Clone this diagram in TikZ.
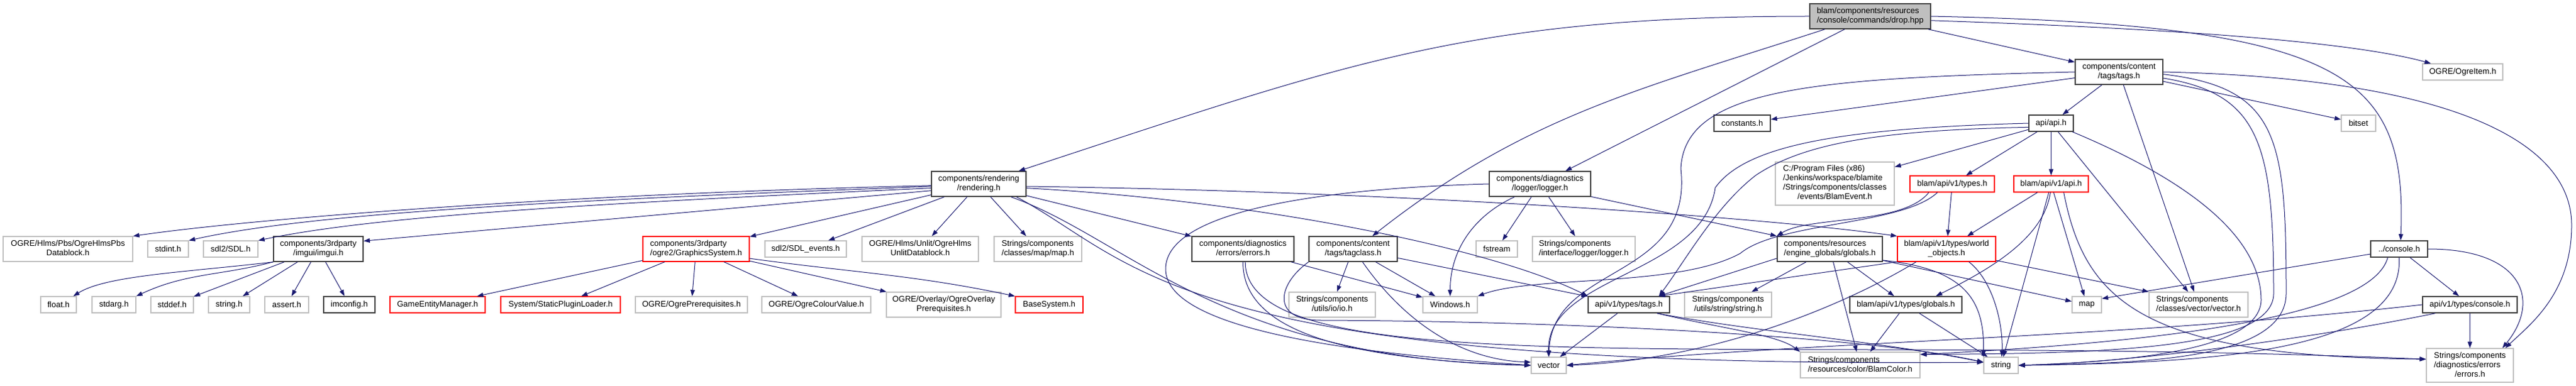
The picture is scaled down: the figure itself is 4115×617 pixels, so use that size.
\documentclass[tikz,border=0pt]{standalone}
\usepackage{fontspec}
\setmainfont{Liberation Sans}
\usetikzlibrary{arrows.meta}
\definecolor{edgeblue}{RGB}{25,25,112}
\newcommand{\nodetext}[2]{\begin{tabular}{@{}l@{}}#1\\\multicolumn{1}{@{}c@{}}{#2}\end{tabular}}
\begin{document}
\begin{tikzpicture}[x=1pt,y=-1pt,
  every node/.style={font=\fontsize{13}{15}\selectfont, inner sep=0pt},
  docfile/.style={draw=black!75, line width=1.5pt, fill=white},
  extfile/.style={draw=gray!50, line width=1.2pt, fill=white},
  cutfile/.style={draw=red, line width=1.2pt, fill=white},
  rootfile/.style={draw=black!75, line width=1.5pt, fill=gray!50},
  dep/.style={draw=edgeblue, line width=1pt, -{Triangle[length=10pt,width=7pt]}}]
\path[use as bounding box, fill=white] (0,0) rectangle (4115,617);

\node[rootfile, minimum width=193, minimum height=40] (drop) at (2987.5,26) {\nodetext{blam/components/resources}{/console/commands/drop.hpp}};
\node[docfile, minimum width=151, minimum height=40] (rendering) at (1563.5,294) {\nodetext{components/rendering}{/rendering.h}};
\node[docfile, minimum width=162, minimum height=40] (logger) at (2460,294) {\nodetext{components/diagnostics}{/logger/logger.h}};
\node[docfile, minimum width=90, minimum height=26] (constants) at (2783,197) {constants.h};
\node[extfile, minimum width=190, minimum height=69] (blamevent) at (2931,293.5) {\nodetext{C:/Program Files (x86)\\/Jenkins/workspace/blamite\\/Strings/components/classes}{/events/BlamEvent.h}};
\node[docfile, minimum width=140, minimum height=40] (tags) at (3385,115) {\nodetext{components/content}{/tags/tags.h}};
\node[extfile, minimum width=128, minimum height=26] (ogreitem) at (3934,115) {OGRE/OgreItem.h};
\node[docfile, minimum width=71, minimum height=26] (apih) at (3276.5,197) {api/api.h};
\node[extfile, minimum width=55, minimum height=26] (bitset) at (3767.5,197) {bitset};
\node[cutfile, minimum width=135, minimum height=26] (types) at (3118.5,294) {blam/api/v1/types.h};
\node[cutfile, minimum width=119, minimum height=26] (apiv1) at (3276.5,294) {blam/api/v1/api.h};
\node[docfile, minimum width=168, minimum height=40] (globals) at (2923,398) {\nodetext{components/resources}{/engine\_globals/globals.h}};
\node[cutfile, minimum width=157, minimum height=40] (worldobj) at (3109.5,398) {\nodetext{blam/api/v1/types/world}{\_objects.h}};
\node[docfile, minimum width=179, minimum height=26] (typesglobals) at (3044.5,487) {blam/api/v1/types/globals.h};
\node[extfile, minimum width=47, minimum height=26] (map) at (3333.5,487) {map};
\node[extfile, minimum width=158, minimum height=40] (vectorh) at (3512,487) {\nodetext{Strings/components}{/classes/vector/vector.h}};
\node[extfile, minimum width=191, minimum height=41] (blamcolor) at (2971.5,583.5) {\nodetext{Strings/components}{/resources/color/BlamColor.h}};
\node[extfile, minimum width=55, minimum height=26] (string) at (3196.5,584) {string};
\node[extfile, minimum width=139, minimum height=40] (stringutils) at (2760.5,487) {\nodetext{Strings/components}{/utils/string/string.h}};
\node[docfile, minimum width=91, minimum height=26] (console) at (3832.5,398) {../console.h};
\node[docfile, minimum width=151, minimum height=26] (typesconsole) at (3945.5,487) {api/v1/types/console.h};
\node[extfile, minimum width=139, minimum height=54] (errorsstr) at (3945.5,584) {\nodetext{Strings/components\\/diagnostics/errors}{/errors.h}};
\node[docfile, minimum width=141, minimum height=40] (tagclass) at (2161.5,398) {\nodetext{components/content}{/tags/tagclass.h}};
\node[extfile, minimum width=66, minimum height=26] (fstream) at (2391,398) {fstream};
\node[extfile, minimum width=164, minimum height=40] (loggerstr) at (2530,398) {\nodetext{Strings/components}{/interface/logger/logger.h}};
\node[extfile, minimum width=87, minimum height=26] (windows) at (2316.5,487) {Windows.h};
\node[docfile, minimum width=130, minimum height=26] (typestags) at (2602,487) {api/v1/types/tags.h};
\node[extfile, minimum width=138, minimum height=40] (io) at (2128,487) {\nodetext{Strings/components}{/utils/io/io.h}};
\node[extfile, minimum width=56, minimum height=26] (vector) at (2474,584) {vector};
\node[docfile, minimum width=163, minimum height=40] (errors) at (1985.5,398) {\nodetext{components/diagnostics}{/errors/errors.h}};
\node[extfile, minimum width=140, minimum height=40] (maph) at (1658,398) {\nodetext{Strings/components}{/classes/map/map.h}};
\node[extfile, minimum width=186, minimum height=40] (unlit) at (1470,398) {\nodetext{OGRE/Hlms/Unlit/OgreHlms}{UnlitDatablock.h}};
\node[extfile, minimum width=130, minimum height=26] (sdlevents) at (1287,398) {sdl2/SDL\_events.h};
\node[cutfile, minimum width=170, minimum height=40] (graphics) at (1112,398) {\nodetext{components/3rdparty}{/ogre2/GraphicsSystem.h}};
\node[extfile, minimum width=183, minimum height=40] (overlay) at (1507.5,487) {\nodetext{OGRE/Overlay/OgreOverlay}{Prerequisites.h}};
\node[cutfile, minimum width=108, minimum height=26] (basesystem) at (1676,487) {BaseSystem.h};
\node[extfile, minimum width=174, minimum height=26] (colourvalue) at (1304,487) {OGRE/OgreColourValue.h};
\node[extfile, minimum width=179, minimum height=26] (ogreprereq) at (1104.5,487) {OGRE/OgrePrerequisites.h};
\node[cutfile, minimum width=191, minimum height=26] (pluginloader) at (895.5,487) {System/StaticPluginLoader.h};
\node[cutfile, minimum width=152, minimum height=26] (gameentity) at (699,487) {GameEntityManager.h};
\node[extfile, minimum width=207, minimum height=40] (pbs) at (108.5,398) {\nodetext{OGRE/Hlms/Pbs/OgreHlmsPbs}{Datablock.h}};
\node[extfile, minimum width=65, minimum height=26] (stdint) at (268.5,398) {stdint.h};
\node[extfile, minimum width=87, minimum height=26] (sdl) at (368.5,398) {sdl2/SDL.h};
\node[docfile, minimum width=143, minimum height=40] (imgui) at (508.5,398) {\nodetext{components/3rdparty}{/imgui/imgui.h}};
\node[extfile, minimum width=57, minimum height=26] (float) at (93.5,487) {float.h};
\node[extfile, minimum width=70, minimum height=26] (stdarg) at (182,487) {stdarg.h};
\node[extfile, minimum width=68, minimum height=26] (stddef) at (275,487) {stddef.h};
\node[extfile, minimum width=66, minimum height=26] (stringh) at (366,487) {string.h};
\node[extfile, minimum width=70, minimum height=26] (assert) at (458,487) {assert.h};
\node[docfile, minimum width=82, minimum height=26] (imconfig) at (558,487) {imconfig.h};

% drop.hpp
\draw[dep] (drop.west) .. controls (2341,26) and (2144,104) .. (rendering.18);
\draw[dep] (drop) -- (logger);
\draw[dep] (drop.196) .. controls (2620,143) and (2438,184) .. (tagclass.34);
\draw[dep] (drop) -- (tags);
\draw[dep] (drop.-4) .. controls (3450,45) and (3750,65) .. (ogreitem.165);
\draw[dep] (drop.east) .. controls (3750,40) and (3845,120) .. (console.80);

% rendering.h
\draw[dep] (rendering.182) .. controls (900,310) and (400,350) .. (pbs.north east);
\draw[dep] (rendering.183) .. controls (900,320) and (500,340) .. (stdint.north east);
\draw[dep] (rendering.185) .. controls (950,325) and (600,345) .. (sdl.north east);
\draw[dep] (rendering.188) -- (imgui.10);
\draw[dep] (rendering) -- (graphics);
\draw[dep] (rendering) -- (sdlevents);
\draw[dep] (rendering) -- (unlit);
\draw[dep] (rendering) -- (maph);
\draw[dep] (rendering) -- (errors);
\draw[dep] (rendering.-3) .. controls (2200,305) and (2800,345) .. (worldobj.north west);
\draw[dep] (rendering.-5) .. controls (2000,320) and (2380,395) .. (typestags.north west);
\draw[dep] (rendering.-22) .. controls (1800,380) and (1950,575) .. (vector.west);
\draw[dep] (rendering.-19) .. controls (1820,420) and (1870,590) .. (string.170);

% imgui.h
\draw[dep] (imgui.south west) .. controls (300,435) and (170,440) .. (float.30);
\draw[dep] (imgui.south west) .. controls (351,441) and (298,436) .. (stdarg.north east);
\draw[dep] (imgui) -- (stddef);
\draw[dep] (imgui) -- (stringh);
\draw[dep] (imgui) -- (assert);
\draw[dep] (imgui) -- (imconfig);

% GraphicsSystem.h
\draw[dep] (graphics) -- (gameentity);
\draw[dep] (graphics) -- (pluginloader);
\draw[dep] (graphics) -- (ogreprereq);
\draw[dep] (graphics) -- (colourvalue);
\draw[dep] (graphics) -- (overlay);
\draw[dep] (graphics.-10) .. controls (1365,436) and (1458,439) .. (basesystem.north west);

% logger.h
\draw[dep] (logger) -- (fstream);
\draw[dep] (logger) -- (loggerstr);
\draw[dep] (logger.207) .. controls (2354,345) and (2316.5,400) .. (windows.north);
\draw[dep] (logger.-14) -- (globals.north west);
\draw[dep] (logger.west) .. controls (2150,300) and (1862,330) .. (1862,430) .. controls (1862,540) and (2250,570) .. (vector.west);

% errors.h
\draw[dep] (errors) -- (windows);
\draw[dep] (errors.south) .. controls (1985,530) and (2150,575) .. (vector.west);
\draw[dep] (errors.-80) .. controls (1990,620) and (2800,530) .. (errorsstr.172);

% tagclass.h
\draw[dep] (tagclass) -- (io);
\draw[dep] (tagclass) -- (windows);
\draw[dep] (tagclass) -- (typestags);
\draw[dep] (tagclass.-54) .. controls (2240,510) and (2330,575) .. (vector.170);
\draw[dep] (tagclass.south west) .. controls (2040,455) and (2030,512) .. (2110,512) .. controls (2600,514) and (3020,545) .. (string.170);

% tags.h
\draw[dep] (tags) -- (constants);
\draw[dep] (tags) -- (apih);
\draw[dep] (tags) -- (bitset);
\draw[dep] (tags) -- (vectorh);
\draw[dep] (tags.west) .. controls (2900,125) and (2690,140) .. (2685,270) .. controls (2705,450) and (2480,420) .. (vector.north);
\draw[dep] (tags.-8) .. controls (3610,150) and (3632,230) .. (3632,470) .. controls (3630,560) and (3350,565) .. (blamcolor.10);
\draw[dep] (tags.-3) .. controls (3640,140) and (3652,220) .. (3652,470) .. controls (3650,580) and (3400,580) .. (string.east);
\draw[dep] (tags.east) .. controls (3900,125) and (4108,220) .. (4108,360) .. controls (4108,470) and (4040,520) .. (errorsstr.26);

% api/api.h
\draw[dep] (apih) -- (blamevent);
\draw[dep] (apih) -- (types);
\draw[dep] (apih) -- (apiv1);
\draw[dep] (apih) -- (vectorh);
\draw[dep] (apih.west) .. controls (2950,205) and (2790,230) .. (2740,300) .. controls (2720,440) and (2470,440) .. (vector.north);
\draw[dep] (apih.190) .. controls (3000,208) and (2880,230) .. (2805,280) .. controls (2740,330) and (2690,420) .. (typestags.16);
\draw[dep] (apih.-22) .. controls (3500,290) and (3612,380) .. (3612,480) .. controls (3610,560) and (3400,578) .. (string.east);

% blam/api/v1/types.h
\draw[dep] (types) -- (worldobj);
\draw[dep] (types.200) .. controls (3040,360) and (2890,345) .. (globals.north west);
\draw[dep] (types.210) .. controls (3040,360) and (2840,355) .. (2780,405) .. controls (2680,460) and (2450,440) .. (windows.north east);

% blam/api/v1/api.h
\draw[dep] (apiv1) -- (worldobj);
\draw[dep] (apiv1.-95) .. controls (3265,380) and (3180,430) .. (typesglobals.16);
\draw[dep] (apiv1) -- (string);
\draw[dep] (apiv1) -- (map);
\draw[dep] (apiv1.-34) .. controls (3330,480) and (3420,570) .. (errorsstr.172);

% world_objects.h
\draw[dep] (worldobj.south west) -- (typestags.16);
\draw[dep] (worldobj.203) .. controls (2960,480) and (2750,575) .. (vector.east);
\draw[dep] (worldobj.-30) .. controls (3185,450) and (3200,520) .. (string.85);
\draw[dep] (worldobj.-13) -- (vectorh.north west);

% engine_globals/globals.h
\draw[dep] (globals) -- (stringutils);
\draw[dep] (globals) -- (typesglobals);
\draw[dep] (globals) -- (blamcolor);
\draw[dep] (globals.-12) .. controls (3140,430) and (3170,480) .. (string.north west);
\draw[dep] (globals) -- (map);
\draw[dep] (globals.190) -- (typestags.16);

\draw[dep] (typesglobals) -- (blamcolor);
\draw[dep] (typesglobals) -- (string);

\draw[dep] (typestags) -- (vector);
\draw[dep] (typestags.-17) .. controls (2750,525) and (2840,535) .. (blamcolor.north west);
\draw[dep] (typestags.-17) .. controls (2800,530) and (3000,545) .. (string.170);

% console.h
\draw[dep] (console) -- (typesconsole);
\draw[dep] (console.east) .. controls (4030,398) and (4060,480) .. (errorsstr.28);
\draw[dep] (console.190) -- (map.22);
\draw[dep] (console.south) .. controls (3840,560) and (3550,580) .. (string.east);
\draw[dep] (console.217) .. controls (3790,500) and (3500,545) .. (blamcolor.10);

\draw[dep] (typesconsole) -- (errorsstr);
\draw[dep] (typesconsole.west) .. controls (3400,540) and (2900,545) .. (vector.east);
\draw[dep] (typesconsole.194) .. controls (3700,540) and (3400,580) .. (string.east);
\end{tikzpicture}
\end{document}
